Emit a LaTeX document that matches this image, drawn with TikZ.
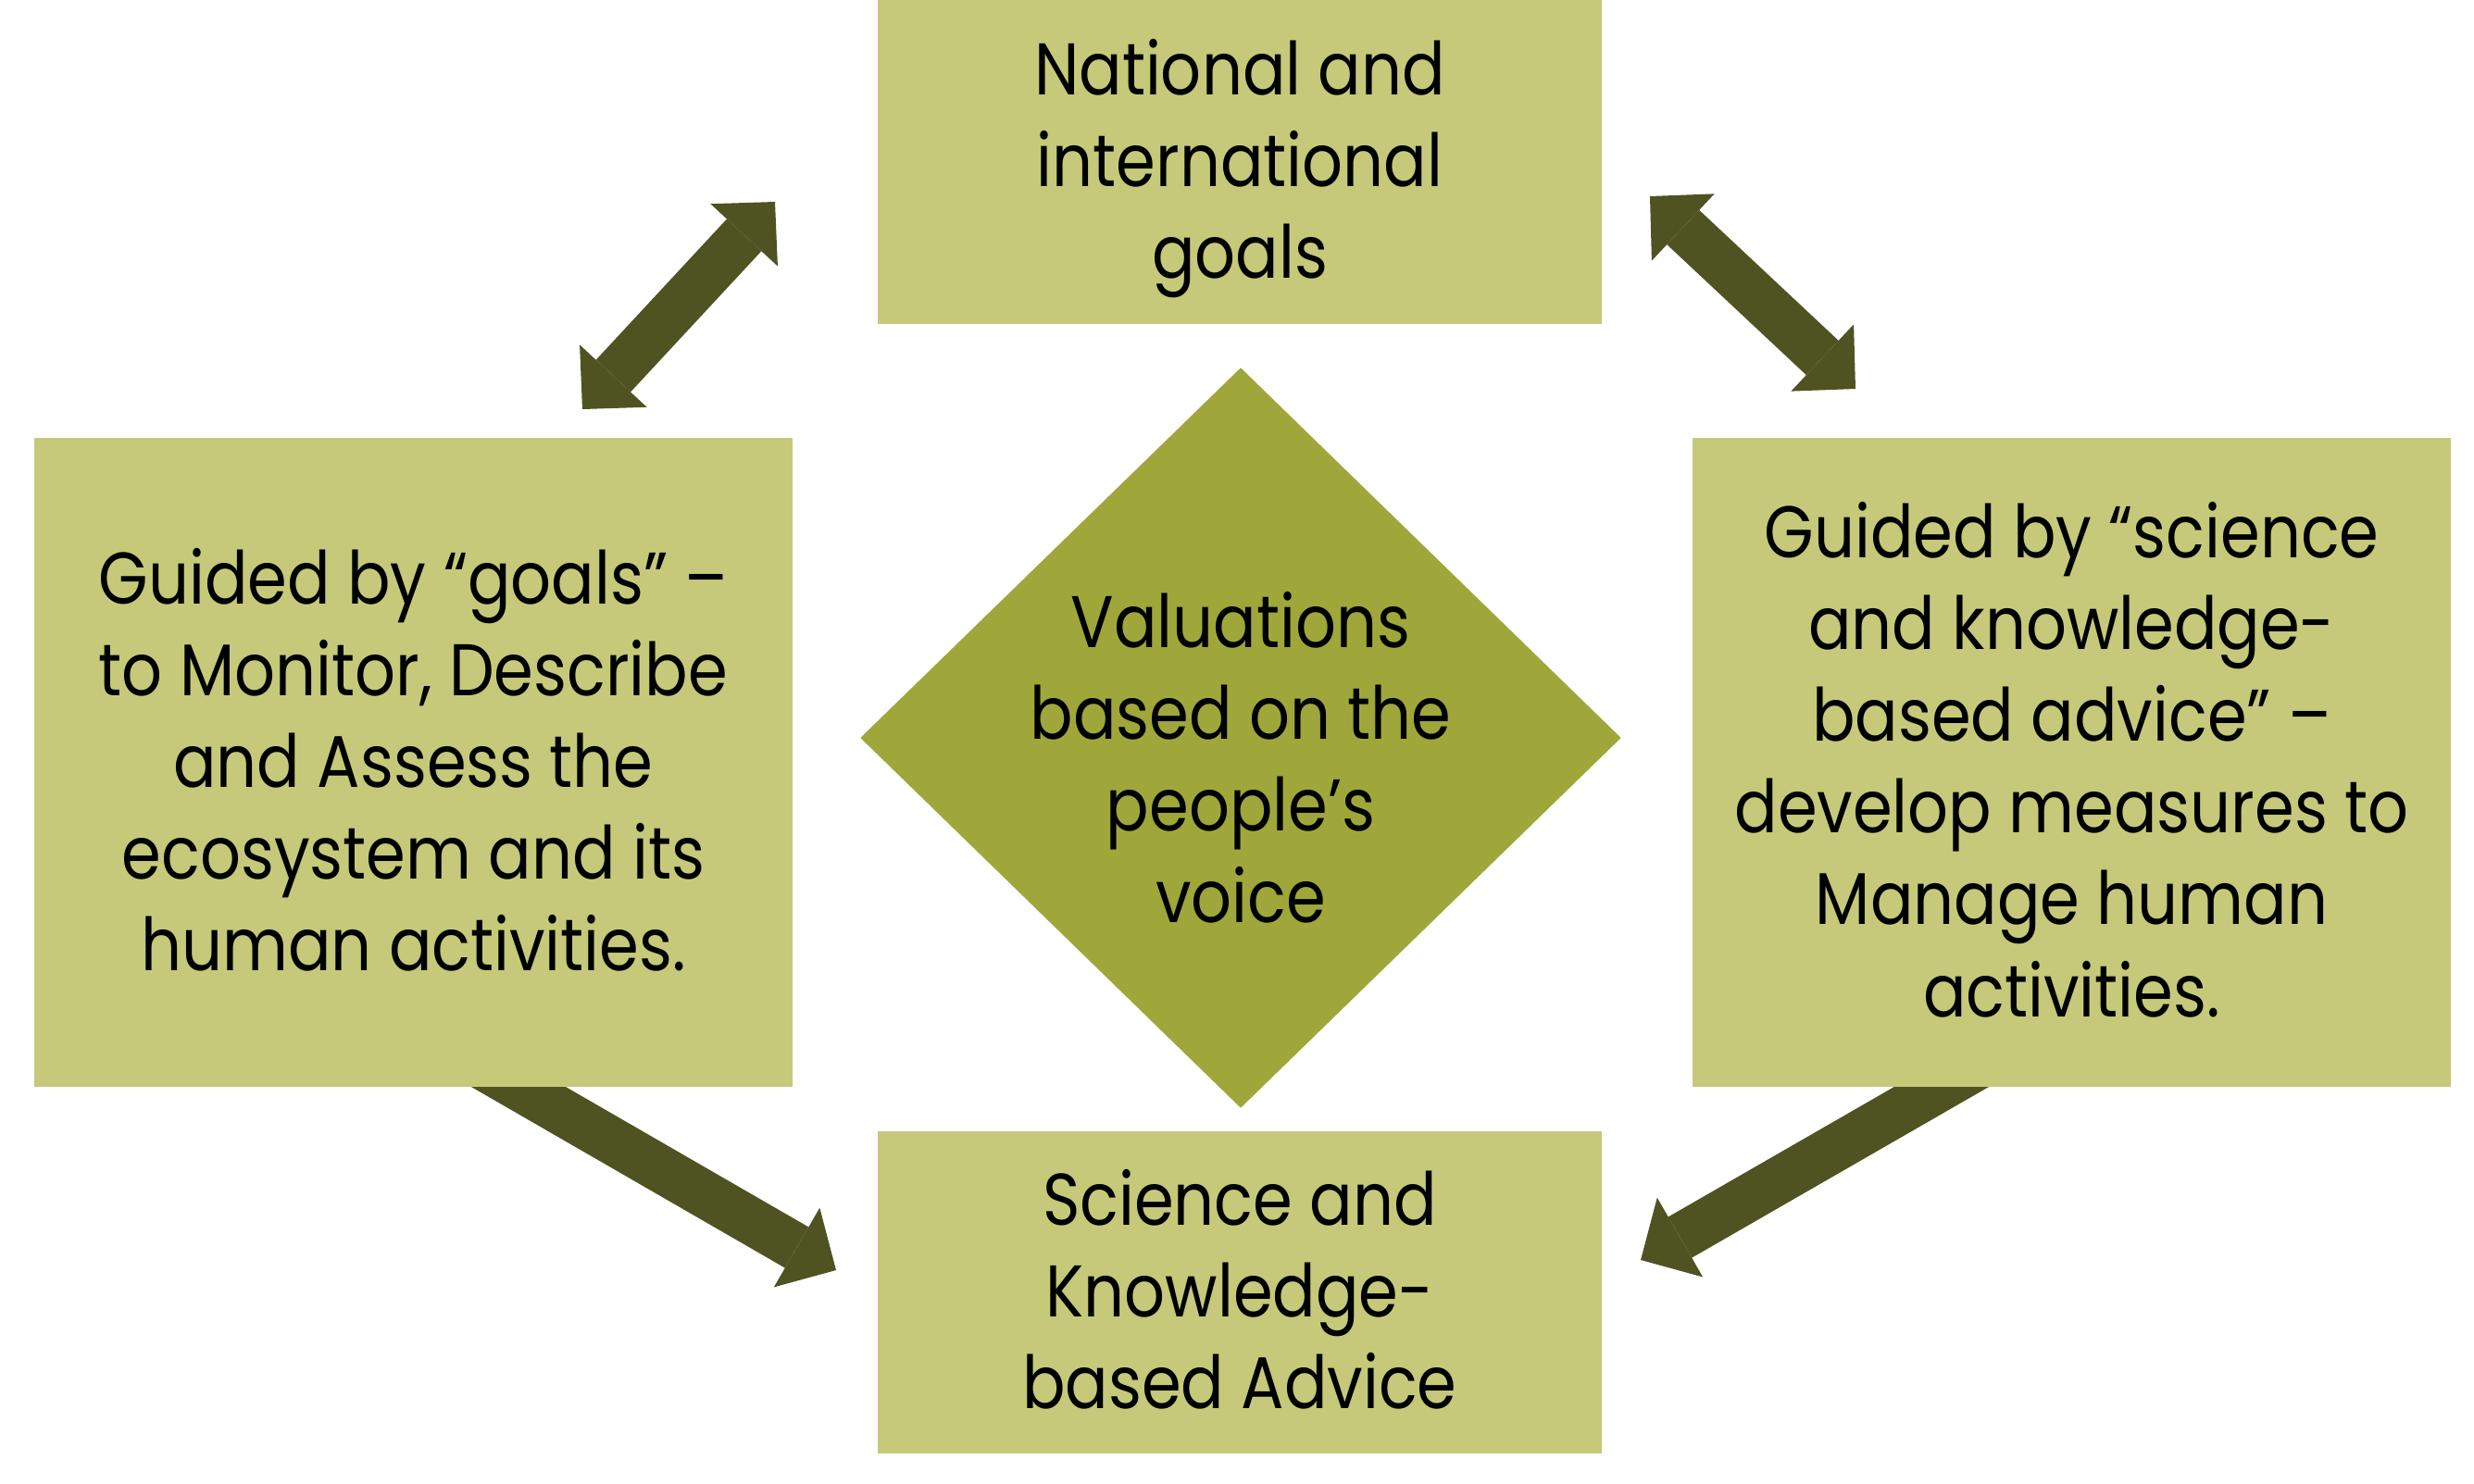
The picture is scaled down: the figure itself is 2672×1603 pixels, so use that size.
\documentclass[tikz,border=0pt]{standalone}
\usepackage{fontspec}
\setmainfont{Poppins}[FakeStretch=0.87]
\usetikzlibrary{arrows.meta,shapes.geometric}
\definecolor{boxgreen}{RGB}{198,201,122}
\definecolor{diagreen}{RGB}{160,167,58}
\definecolor{arrowgreen}{RGB}{79,83,34}
\tikzset{
  boxtext/.style={align=center, font=\fontsize{22.5}{28.2}\selectfont, text depth=1.9pt},
  goalbox/.style={boxtext, fill=boxgreen, inner sep=0pt},
  bigtip/.tip={Triangle[width=9.9mm, length=4.9mm, line width=0pt]},
  bigarrow/.style={draw=arrowgreen, line width=5.1mm, -bigtip},
  bothways/.style={bigarrow, bigtip-bigtip}
}
\begin{document}
\begin{tikzpicture}[x=0.1mm, y=-0.1mm]
\useasboundingbox (0,0) rectangle (2672,1603);
% arrows first, the boxes cover their tails
\coordinate (tlow) at (629,442);
\coordinate (tup) at (837,218);
\coordinate (rup) at (1782,212);
\coordinate (rlow) at (2004,420);
\coordinate (lstart) at (508,1144);
\coordinate (lend) at (903,1372);
\coordinate (rstart) at (2149,1144);
\coordinate (rend) at (1772,1361);
\draw[bothways] (tlow) -- (tup);
\draw[bothways] (rup) -- (rlow);
\draw[bigarrow] (lstart) -- (lend);
\draw[bigarrow] (rstart) -- (rend);
% boxes
\node[goalbox, minimum width=78.2mm, minimum height=35mm] (goals) at (1339,175)
{National and\\international\\goals};
\node[goalbox, minimum width=81.9mm, minimum height=70.1mm] (monitor) at (446.5,823.5)
{Guided by “goals” –\\to Monitor, Describe\\and Assess the\\ecosystem and its\\human activities.};
\node[goalbox, minimum width=81.9mm, minimum height=70.1mm] (manage) at (2237.5,823.5)
{Guided by “science\\and knowledge-\\based advice” –\\develop measures to\\Manage human\\activities.};
\node[goalbox, minimum width=78.2mm, minimum height=34.8mm] (advice) at (1339,1396)
{Science and\\Knowledge-\\based Advice};
% centre diamond
\node[diamond, fill=diagreen, minimum width=82.2mm, minimum height=80mm, inner sep=0pt] (voice) at (1340,797) {};
\node[boxtext] (voicetext) at (1340,821)
{Valuations\\based on the\\people’s\\voice};
\end{tikzpicture}
\end{document}
